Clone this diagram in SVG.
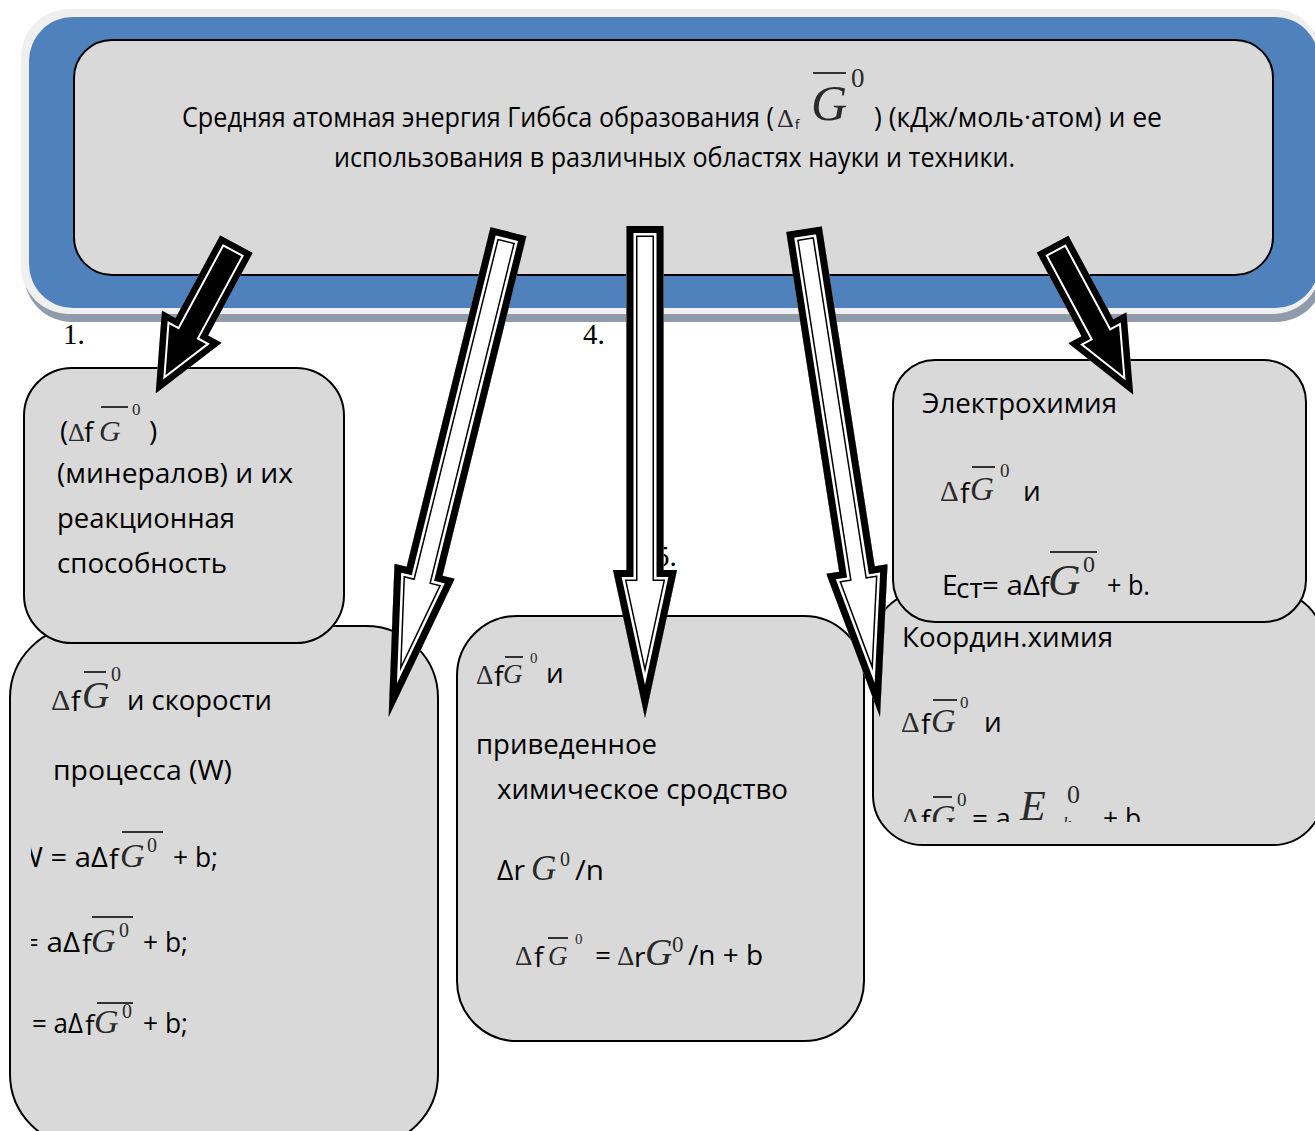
<svg xmlns="http://www.w3.org/2000/svg" xmlns:xlink="http://www.w3.org/1999/xlink" width="1315" height="1131" viewBox="0 0 1315 1131">
<style>
.box{fill:#d9d9d9;stroke:#000;stroke-width:2}
.t{font-family:"Open Sans","Noto Sans","DejaVu Sans",sans-serif;font-size:28px;fill:#000}
.m{font-family:"Liberation Serif","Times New Roman",serif;fill:#2a2a2a}
.mi{font-style:italic}
.ol{stroke:#333;stroke-width:2}
.l1{fill:#fff;stroke:#000;stroke-width:22;stroke-linejoin:miter}
.l2{fill:none;stroke:#fff;stroke-width:19;stroke-linejoin:miter}
.l3{fill:none;stroke:#000;stroke-width:14;stroke-linejoin:miter}
.s1{fill:#000}
.s2{fill:none;stroke:#fff;stroke-width:17;stroke-linejoin:miter}
.s3{fill:none;stroke:#000;stroke-width:13;stroke-linejoin:miter}
.lab{font-family:"Liberation Serif","Times New Roman",serif;font-size:29px;fill:#000}
</style>
<defs>
<path id="p1" d="M-18.5 0 L18.5 0 L18.5 94 L34 94 L0 170 L-34 94 L-18.5 94 Z"/>
<path id="p5" d="M-18 0 L18 0 L18 95 L33 95 L0 171 L-33 95 L-18 95 Z"/>
<path id="p2" d="M-18.5 0 L18.5 0 L18.5 350 L31 350 L0 500 L-31 350 L-18.5 350 Z"/>
<path id="p3" d="M-18.5 0 L18.5 0 L18.5 344 L32 344 L0 492 L-32 344 L-18.5 344 Z"/>
<path id="p4" d="M-18 0 L18 0 L18 344 L31 344 L0 494 L-31 344 L-18 344 Z"/>
<clipPath id="clipW"><rect x="31" y="800" width="400" height="200"/></clipPath>
<clipPath id="clipK"><rect x="880" y="760" width="430" height="62"/></clipPath>
</defs>

<g id="banner">
<rect x="24" y="14" width="1300" height="308" rx="48" fill="#8f9aab"/>
<rect x="21" y="9" width="1300" height="305" rx="48" fill="#efefef"/>
<rect x="29" y="17" width="1290" height="291" rx="44" fill="#4f81bd"/>
<rect class="box" x="74" y="40" width="1199" height="235" rx="38"/>
<text class="t" x="182" y="127" font-size="23"><tspan textLength="592" lengthAdjust="spacingAndGlyphs">Средняя атомная энергия Гиббса образования (</tspan><tspan x="777" font-family="Liberation Serif, serif" font-size="26" fill="#2a2a2a">Δ</tspan><tspan x="795" y="129" font-size="13">f</tspan><tspan x="811" y="120" font-family="Liberation Serif, serif" font-style="italic" font-size="50" fill="#2a2a2a">G</tspan><tspan x="851" y="87" font-family="Liberation Serif, serif" font-size="27" fill="#2a2a2a">0</tspan><tspan x="874" y="127" textLength="288" lengthAdjust="spacingAndGlyphs">) (кДж/моль·атом) и ее</tspan></text>
<line class="ol" x1="813" y1="73" x2="846" y2="73" stroke-width="2.5"/>
<text class="t" x="334" y="167" font-size="23" textLength="681" lengthAdjust="spacingAndGlyphs">использования в различных областях науки и техники.</text>
</g>

<g id="node-rate">
<rect class="box" x="10" y="626" width="428" height="520" rx="72"/>
<text class="m" x="51" y="710" font-size="30">Δ</text>
<text class="t" x="71" y="711" font-size="15">f</text>
<text class="m mi" x="82" y="708" font-size="38">G</text>
<line class="ol" x1="84" y1="672" x2="106" y2="672"/>
<text class="m" x="111" y="681" font-size="20">0</text>
<text class="t" x="127" y="710" textLength="145" lengthAdjust="spacingAndGlyphs">и скорости</text>
<text class="t" x="53" y="780" textLength="179" lengthAdjust="spacingAndGlyphs">процесса (W)</text>
<g clip-path="url(#clipW)">
<text class="t" x="16" y="867" textLength="92" lengthAdjust="spacingAndGlyphs">W = aΔ</text>
<text class="t" x="22" y="952" textLength="58" lengthAdjust="spacingAndGlyphs">= aΔ</text>
</g>
<text class="t" x="109" y="869" font-size="15">f</text>
<text class="m mi" x="120" y="867" font-size="34">G</text>
<line class="ol" x1="122" y1="832" x2="163" y2="832"/>
<text class="m" x="147" y="852" font-size="20">0</text>
<text class="t" x="173" y="867" textLength="45" lengthAdjust="spacingAndGlyphs">+ b;</text>
<text class="t" x="82" y="954" font-size="15">f</text>
<text class="m mi" x="91" y="952" font-size="34">G</text>
<line class="ol" x1="92" y1="917" x2="133" y2="917"/>
<text class="m" x="119" y="937" font-size="20">0</text>
<text class="t" x="143" y="952" textLength="45" lengthAdjust="spacingAndGlyphs">+ b;</text>
<text class="t" x="32" y="1033" textLength="51" lengthAdjust="spacingAndGlyphs">= aΔ</text>
<text class="t" x="85" y="1035" font-size="15">f</text>
<text class="m mi" x="94" y="1033" font-size="34">G</text>
<line class="ol" x1="97" y1="1003" x2="133" y2="1003"/>
<text class="m" x="122" y="1018" font-size="20">0</text>
<text class="t" x="143" y="1033" textLength="45" lengthAdjust="spacingAndGlyphs">+ b;</text>
</g>

<g id="node-minerals">
<rect class="box" x="24" y="368" width="320" height="275" rx="48"/>
<text class="t" x="60" y="441">(</text>
<text class="m" x="68" y="441" font-size="26">Δ</text>
<text class="t" x="84" y="442" font-size="14">f</text>
<text class="m mi" x="99" y="441" font-size="30">G</text>
<line class="ol" x1="101" y1="407" x2="128" y2="407"/>
<text class="m" x="132" y="415" font-size="17">0</text>
<text class="t" x="149" y="441">)</text>
<text class="t" x="57" y="483" textLength="236" lengthAdjust="spacingAndGlyphs">(минералов) и их</text>
<text class="t" x="57" y="528" textLength="178" lengthAdjust="spacingAndGlyphs">реакционная</text>
<text class="t" x="57" y="573" textLength="170" lengthAdjust="spacingAndGlyphs">способность</text>
</g>

<g id="node-affinity">
<rect class="box" x="457" y="616" width="407" height="425" rx="60"/>
<text class="m" x="476" y="684" font-size="27">Δ</text>
<text class="t" x="494" y="686" font-size="14">f</text>
<text class="m mi" x="503" y="683" font-size="27">G</text>
<line class="ol" x1="505" y1="657" x2="523" y2="657"/>
<text class="m" x="530" y="663" font-size="15">0</text>
<text class="t" x="546" y="683">и</text>
<text class="t" x="476" y="754" textLength="181" lengthAdjust="spacingAndGlyphs">приведенное</text>
<text class="t" x="497" y="799" textLength="291" lengthAdjust="spacingAndGlyphs">химическое сродство</text>
<text class="t" x="497" y="880" textLength="28" lengthAdjust="spacingAndGlyphs">Δr</text>
<text class="m mi" x="531" y="880" font-size="35">G</text>
<text class="m" x="560" y="866" font-size="20">0</text>
<text class="t" x="575" y="880" textLength="29" lengthAdjust="spacingAndGlyphs">/n</text>
<text class="m" x="515" y="965" font-size="27">Δ</text>
<text class="t" x="534" y="967" font-size="14">f</text>
<text class="m mi" x="548" y="965" font-size="27">G</text>
<line class="ol" x1="548" y1="938" x2="568" y2="938"/>
<text class="m" x="575" y="944" font-size="15">0</text>
<text class="t" x="595" y="965">=</text>
<text class="m" x="617" y="965" font-size="27">Δ</text>
<text class="t" x="634" y="967" font-size="14">r</text>
<text class="m mi" x="645" y="965" font-size="38">G</text>
<text class="m" x="672" y="952" font-size="23">0</text>
<text class="t" x="688" y="965" textLength="75" lengthAdjust="spacingAndGlyphs">/n + b</text>
</g>

<g id="node-coord">
<rect class="box" x="873" y="592" width="450" height="253" rx="50"/>
<text class="t" x="902" y="647" textLength="211" lengthAdjust="spacingAndGlyphs">Координ.химия</text>
<text class="m" x="901" y="732" font-size="29">Δ</text>
<text class="t" x="921" y="734" font-size="15">f</text>
<text class="m mi" x="931" y="732" font-size="34">G</text>
<line class="ol" x1="933" y1="700" x2="957" y2="700"/>
<text class="m" x="960" y="708" font-size="17">0</text>
<text class="t" x="984" y="732">и</text>
<g clip-path="url(#clipK)">
<text class="m" x="901" y="828" font-size="29">Δ</text>
<text class="t" x="921" y="830" font-size="15">f</text>
<text class="m mi" x="931" y="828" font-size="34">G</text>
<line class="ol" x1="933" y1="797" x2="952" y2="797"/>
<text class="m" x="957" y="806" font-size="19">0</text>
<text class="t" x="972" y="828">= a</text>
<text class="m mi" x="1020" y="820" font-size="42">E</text>
<text class="m" x="1067" y="803" font-size="26">0</text>
<text class="m mi" x="1063" y="830" font-size="18">k</text>
<text class="t" x="1103" y="828" textLength="45" lengthAdjust="spacingAndGlyphs">+ b.</text>
</g>
</g>

<g id="node-electro">
<rect class="box" x="893" y="360" width="413" height="262" rx="42"/>
<text class="t" x="922" y="413" textLength="195" lengthAdjust="spacingAndGlyphs">Электрохимия</text>
<text class="m" x="940" y="501" font-size="29">Δ</text>
<text class="t" x="960" y="503" font-size="15">f</text>
<text class="m mi" x="970" y="500" font-size="33">G</text>
<line class="ol" x1="972" y1="467" x2="995" y2="467"/>
<text class="m" x="1000" y="477" font-size="19">0</text>
<text class="t" x="1023" y="501">и</text>
<text class="t" x="942" y="595">E</text>
<text class="t" x="956" y="598" font-size="15">ст</text>
<text class="t" x="982" y="595" textLength="58" lengthAdjust="spacingAndGlyphs">= aΔ</text>
<text class="t" x="1040" y="597" font-size="15">f</text>
<text class="m mi" x="1048" y="595" font-size="45">G</text>
<line class="ol" x1="1050" y1="552" x2="1097" y2="552"/>
<text class="m" x="1083" y="572" font-size="24">0</text>
<text class="t" x="1107" y="595" textLength="43" lengthAdjust="spacingAndGlyphs">+ b.</text>
</g>

<g id="labels">
<text class="lab" x="63" y="344">1.</text>
<text class="lab" x="583" y="344">4.</text>
<text class="lab" x="655" y="566">5.</text>
</g>

<g id="connectors">
<g id="arrow1" transform="translate(236.5 244) rotate(28.4)">
<clipPath id="k1"><use href="#p1"/></clipPath>
<g clip-path="url(#k1)"><use href="#p1" class="s1"/><use href="#p1" class="s2"/><use href="#p1" class="s3"/></g>
</g>
<g id="arrow2" transform="translate(508.5 231.5) rotate(13.87)">
<clipPath id="k2"><use href="#p2"/></clipPath>
<g clip-path="url(#k2)"><use href="#p2" class="l1"/><use href="#p2" class="l2"/><use href="#p2" class="l3"/></g>
</g>
<g id="arrow3" transform="translate(645 226)">
<clipPath id="k3"><use href="#p3"/></clipPath>
<g clip-path="url(#k3)"><use href="#p3" class="l1"/><use href="#p3" class="l2"/><use href="#p3" class="l3"/></g>
</g>
<g id="arrow4" transform="translate(804 229) rotate(-8.85)">
<clipPath id="k4"><use href="#p4"/></clipPath>
<g clip-path="url(#k4)"><use href="#p4" class="l1"/><use href="#p4" class="l2"/><use href="#p4" class="l3"/></g>
</g>
<g id="arrow5" transform="translate(1052.5 244) rotate(-28.2)">
<clipPath id="k5"><use href="#p5"/></clipPath>
<g clip-path="url(#k5)"><use href="#p5" class="s1"/><use href="#p5" class="s2"/><use href="#p5" class="s3"/></g>
</g>
</g>
</svg>
